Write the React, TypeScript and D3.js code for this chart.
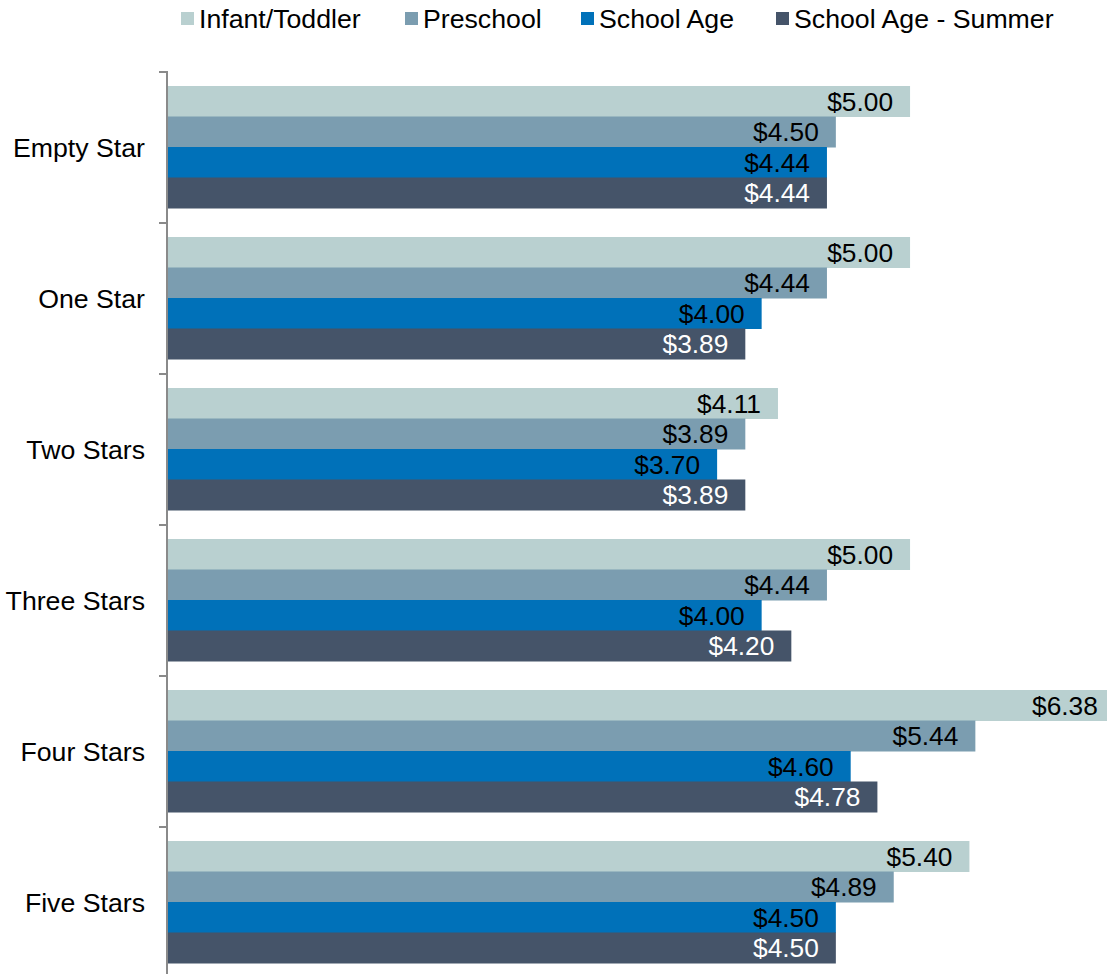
import React from "react";
import * as d3 from "d3";

const categories = ["Empty Star", "One Star", "Two Stars", "Three Stars", "Four Stars", "Five Stars"];
const seriesNames = ["Infant/Toddler", "Preschool", "School Age", "School Age - Summer"];
const infantToddler = [5.0, 5.0, 4.11, 5.0, 6.38, 5.4];
const preschool = [4.5, 4.44, 3.89, 4.44, 5.44, 4.89];
const schoolAge = [4.44, 4.0, 3.7, 4.0, 4.6, 4.5];
const schoolAgeSummer = [4.44, 3.89, 3.89, 4.2, 4.78, 4.5];
const seriesValues = [infantToddler, preschool, schoolAge, schoolAgeSummer];
const colors = ["#B9D0D0", "#7B9DB0", "#0071B9", "#455469"];
const labelColors = ["#000", "#000", "#000", "#fff"];

const W = 1107;
const H = 974;
const FONT = "Arial, 'Liberation Sans', sans-serif";

export default function App() {
  const x = d3.scaleLinear().domain([0, 6.327]).range([168, W]);
  const y0 = d3.scaleBand<string>().domain(categories).range([72, 978]);
  const bw = y0.bandwidth();
  const y1 = d3.scaleBand<string>().domain(seriesNames).range([14, bw - 15]);
  const fmt = (v: number) => "$" + d3.format(".2f")(v);

  const legendX = [181, 405, 581, 776];

  return (
    <div style={{ position: "absolute", left: 0, top: 0 }}>
      <svg width={W} height={H} style={{ display: "block", fontFamily: FONT }}>
        <rect width={W} height={H} fill="#fff" />
        {/* legend */}
        {seriesNames.map((s, i) => (
          <g key={s}>
            <rect x={legendX[i]} y={12} width={13} height={13} fill={colors[i]} />
            <text x={legendX[i] + 18} y={19} dy="0.35em" fontSize={26.7} fill="#000">
              {s}
            </text>
          </g>
        ))}
        {/* bars */}
        {categories.map((c, ci) => (
          <g key={c} transform={`translate(0,${y0(c)})`}>
            {seriesNames.map((s, si) => {
              const v = seriesValues[si][ci];
              const yy = y1(s)!;
              const h = y1.bandwidth();
              return (
                <g key={s}>
                  <rect x={x(0)} y={yy} width={x(v) - x(0)} height={h + 0.5} fill={colors[si]} />
                  <text
                    x={x(v) - 17}
                    y={yy + h / 2}
                    dy="0.36em"
                    textAnchor="end"
                    fontSize={26.3}
                    fill={labelColors[si]}
                  >
                    {fmt(v)}
                  </text>
                </g>
              );
            })}
            <text x={145} y={bw / 2} dy="0.36em" textAnchor="end" fontSize={26.7} fill="#000">
              {c}
            </text>
          </g>
        ))}
        {/* axis */}
        <line x1={167} x2={167} y1={71} y2={H} stroke="#8A8A8A" strokeWidth={2} />
        {y0.domain().map((c) => (
          <line key={c} x1={159} x2={167} y1={y0(c)} y2={y0(c)} stroke="#8A8A8A" strokeWidth={2} />
        ))}
      </svg>
    </div>
  );
}
